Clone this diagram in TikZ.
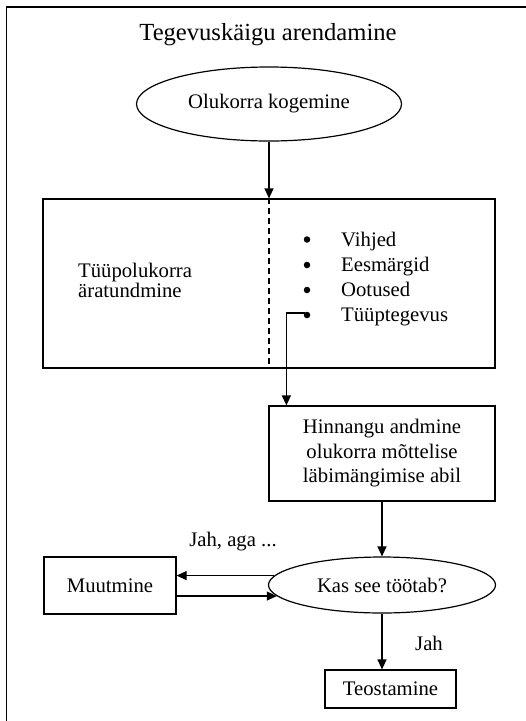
\documentclass[tikz,border=0pt]{standalone}
\usepackage{fontspec}
\setmainfont{Liberation Serif}
\usetikzlibrary{arrows.meta,shapes.geometric,calc}

\tikzset{
  txt/.style={font=\fontsize{20.7}{24.5}\selectfont, inner sep=0pt},
  boxnode/.style={draw, line width=1.2pt, rectangle, inner sep=0pt, txt},
  ovalnode/.style={draw, line width=1.2pt, ellipse, inner sep=0pt, txt},
  dot/.style={circle, fill, inner sep=0pt, minimum size=6.5pt},
  arr/.style={line width=1.2pt, -{Triangle[length=10pt,width=9pt]}},
  plain/.style={line width=1.2pt},
}

\begin{document}
\begin{tikzpicture}[x=1pt,y=-1pt]
\useasboundingbox (0,0) rectangle (526,721);

% open frame: top and left edges only
\draw[plain] (526,7) -- (6.5,7) -- (6.5,721);

\node[txt, font=\fontsize{24.6}{29}\selectfont, anchor=base] (title) at (268,40) {Tegevuskäigu arendamine};

\node[ovalnode, minimum width=265pt, minimum height=74pt] (e1) at (269,104) {Olukorra kogemine};

\node[boxnode, minimum width=452pt, minimum height=169pt] (box1) at (269,283.5) {};
\draw[plain, dashed, dash pattern=on 6pt off 4pt] (box1.north) -- (box1.south);

\node[txt, anchor=base west, align=left, font=\fontsize{20.7}{18.5}\selectfont] (left) at (78,297) {Tüüpolukorra\\äratundmine};

% bullet list in the right half
\foreach \i/\t/\y in {1/Vihjed/246, 2/Eesmärgid/271.5, 3/Ootused/296.5, 4/Tüüptegevus/321.5}{
  \node[dot] (b\i) at (307,\y-6.5) {};
  \node[txt, anchor=base west] (t\i) at (341,\y) {\t};
}

\node[boxnode, minimum width=226pt, minimum height=95pt, align=center] (box2) at (382,453.5)
  {Hinnangu andmine\\olukorra mõttelise\\läbimängimise abil};

\node[ovalnode, minimum width=227pt, minimum height=56pt] (e2) at (382,585) {Kas see töötab?};

\node[boxnode, minimum width=132pt, minimum height=57pt] (box3) at (110,585.5) {Muutmine};

\node[boxnode, minimum width=131pt, minimum height=38pt] (box4) at (390.5,689) {Teostamine};

\node[txt, anchor=base] (lab1) at (233,546.5) {Jah, aga ...};
\node[txt, anchor=base] (lab2) at (429,650) {Jah};

\coordinate (c1) at (305,313);
\coordinate (k) at ([xshift=18pt]box2.north west);

\draw[arr] (e1.south) -- (box1.north);
\draw[arr] (c1) -| (k);
\draw[arr] (box2.south) -- (e2.north);
\draw[arr] (e2.175) -- (e2.175 -| box3.east);
\draw[arr] (box3.east |- e2.186) -- (e2.186);
\draw[arr] (e2.south) -- (e2.south |- box4.north);
\end{tikzpicture}
\end{document}
